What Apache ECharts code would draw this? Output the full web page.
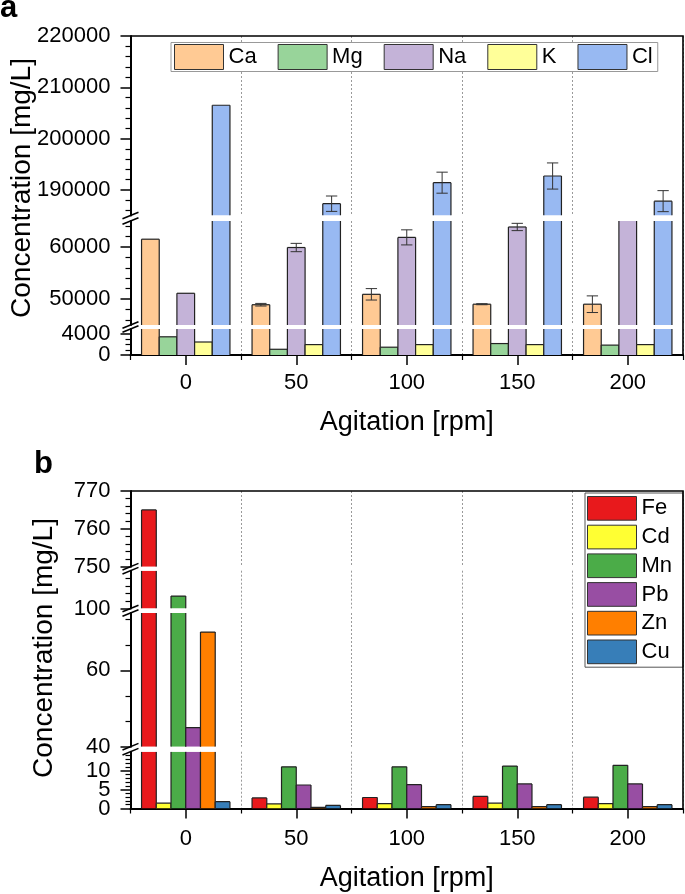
<!DOCTYPE html>
<html><head><meta charset="utf-8">
<script src="https://cdn.jsdelivr.net/npm/echarts@6/dist/echarts.min.js"></script>
<style>html,body{margin:0;padding:0;background:#fff}#c{width:685px;height:894px}</style>
</head><body><div id="c"></div>
<script>
// ---------------- data ----------------
const categories = ['0', '50', '100', '150', '200'];

// panel a  (mg/L)
const caValues = [61500, 48900, 50900, 49000, 49000];
const caErrors = [0, 250, 1100, 100, 1600];
const mgValues = [3500, 1100, 1500, 2200, 1900];
const naValues = [51100, 59900, 61850, 63850, 66000];
const naErrors = [0, 800, 1450, 700, 0];
const kValues  = [2500, 2000, 2000, 2000, 2000];
const clValues = [206500, 187300, 191400, 192700, 187800];
const clErrors = [0, 1500, 2050, 2550, 2050];
const aTickLabels = [0, 4000, 50000, 60000, 190000, 200000, 210000, 220000];

// panel b  (mg/L)
const feValues = [765, 2.8, 2.9, 3.2, 3.0];
const cdValues = [1.4, 1.2, 1.3, 1.4, 1.3];
const mnValues = [103.3, 11.0, 11.0, 11.2, 11.4];
const pbValues = [45.0, 6.2, 6.3, 6.5, 6.5];
const znValues = [70.0, 0.3, 0.5, 0.5, 0.5];
const cuValues = [1.8, 0.8, 1.0, 1.0, 1.0];
const bTickLabels = [0, 5, 10, 40, 60, 100, 750, 760, 770];

// ---------------- layout / style ----------------
const FONT = '"Liberation Sans", Arial, sans-serif';
const PLOT_LEFT = 130.5, PLOT_RIGHT = 683;
const panelA = {
  segs: [
    {min: 0, max: 5000, top: 329, bottom: 355, minorStep: 1000},
    {min: 45000, max: 65000, top: 221, bottom: 325, minorStep: 2000},
    {min: 185000, max: 220000, top: 36, bottom: 215.5, minorStep: 2000}
  ],
  titleX: 22, titleY: 188, label: 'a', labelX: 0, labelY: 8, xLabelMargin: 17, xNameGap: 54
};
const panelB = {
  segs: [
    {min: 0, max: 15, top: 751.7, bottom: 808.5, minorStep: 1},
    {min: 40, max: 75, top: 613, bottom: 746.7, minorStep: 20 / 3},
    {min: 100, max: 110, top: 570.7, bottom: 608.5, minorStep: 2},
    {min: 750, max: 770, top: 491, bottom: 566.7, minorStep: 2}
  ],
  titleX: 44, titleY: 648, label: 'b', labelX: 34, labelY: 464, xLabelMargin: 19, xNameGap: 57
};

const seriesA = [
  {name: 'Ca', values: caValues, errors: caErrors, color: '#FFCA94'},
  {name: 'Mg', values: mgValues, errors: null, color: '#98D49A'},
  {name: 'Na', values: naValues, errors: naErrors, color: '#C4B3D8'},
  {name: 'K',  values: kValues,  errors: null, color: '#FFFF99'},
  {name: 'Cl', values: clValues, errors: clErrors, color: '#98B9F2'}
];
const seriesB = [
  {name: 'Fe', values: feValues, color: '#E8191C'},
  {name: 'Cd', values: cdValues, color: '#FFFF33'},
  {name: 'Mn', values: mnValues, color: '#4BAC48'},
  {name: 'Pb', values: pbValues, color: '#984EA3'},
  {name: 'Zn', values: znValues, color: '#FF7F00'},
  {name: 'Cu', values: cuValues, color: '#377EB8'}
];

const grids = [], xAxes = [], yAxes = [], series = [], graphics = [];

function makeRender(seg, k, n) {
  return function (params, api) {
    const i = api.value(0);
    const v = api.value(1);
    const e = api.value(2) || 0;
    if (!(v > seg.min)) return null;
    const band = api.size([1, 0])[0];
    const cx = api.coord([i, seg.min])[0];
    const bw = band * 0.8 / n;
    const x0 = cx - band * 0.4 + k * bw;
    const top = Math.min(v, seg.max);
    const yT = api.coord([i, top])[1];
    const yB = api.coord([i, seg.min])[1];
    const st = {stroke: '#222', lineWidth: 1.2};
    const ch = [
      {type: 'rect', shape: {x: x0, y: yT, width: bw, height: yB - yT}, style: {fill: api.visual('color')}},
      {type: 'line', shape: {x1: x0, y1: yB, x2: x0, y2: yT}, style: st},
      {type: 'line', shape: {x1: x0 + bw, y1: yB, x2: x0 + bw, y2: yT}, style: st}
    ];
    if (v <= seg.max) {
      ch.push({type: 'line', shape: {x1: x0, y1: yT, x2: x0 + bw, y2: yT}, style: st});
      if (e > 0) {
        const xm = x0 + bw / 2, cap = bw * 0.32;
        const yHi = api.coord([i, v + e])[1], yLo = api.coord([i, v - e])[1];
        const es = {stroke: '#333', lineWidth: 1};
        ch.push({type: 'line', shape: {x1: xm, y1: yHi, x2: xm, y2: yLo}, style: es});
        ch.push({type: 'line', shape: {x1: xm - cap, y1: yHi, x2: xm + cap, y2: yHi}, style: es});
        ch.push({type: 'line', shape: {x1: xm - cap, y1: yLo, x2: xm + cap, y2: yLo}, style: es});
      }
    }
    return {type: 'group', children: ch};
  };
}

function tickAxis(gi, seg, values, opts) {
  return {
    type: 'value', gridIndex: gi, min: seg.min, max: seg.max, position: 'left',
    axisLine: {show: !!opts.line, lineStyle: {color: '#000', width: 2}},
    axisTick: {show: true, length: opts.len, customValues: values, lineStyle: {color: '#000', width: opts.len > 6 ? 1.5 : 1.2}},
    axisLabel: opts.labels ? {show: true, customValues: values, margin: 20, fontSize: 22, fontFamily: FONT, color: '#000',
      showMinLabel: true, showMaxLabel: true, formatter: v => String(Math.round(v))} : {show: false},
    splitLine: {show: false}
  };
}

function buildPanel(panel, defs, tickLabels) {
  panel.segs.forEach((seg, s) => {
    const gi = grids.length;
    grids.push({left: PLOT_LEFT, width: PLOT_RIGHT - PLOT_LEFT, top: seg.top, height: seg.bottom - seg.top,
      containLabel: false, outerBoundsMode: 'none'});
    const isBottom = s === 0;
    const xi = xAxes.length;
    xAxes.push({
      type: 'category', gridIndex: gi, data: categories, position: 'bottom', boundaryGap: true,
      axisLine: {show: isBottom, onZero: false, lineStyle: {color: '#000', width: 2}},
      axisTick: {show: isBottom, alignWithLabel: true, length: 10, lineStyle: {color: '#000', width: 1.5}},
      axisLabel: {show: isBottom, margin: panel.xLabelMargin, fontSize: 22, fontFamily: FONT, color: '#000'},
      splitLine: {show: true, lineStyle: {color: '#9a9a9a', width: 1, type: [2, 2]}},
      name: isBottom ? 'Agitation [rpm]' : '', nameLocation: 'middle', nameGap: panel.xNameGap,
      nameTextStyle: {fontSize: 27, fontFamily: FONT, color: '#000'}
    });
    if (isBottom) {
      xAxes.push({
        type: 'category', gridIndex: gi, data: categories, position: 'bottom',
        axisLine: {show: false}, axisTick: {show: true, length: 5, lineStyle: {color: '#000', width: 1.2}},
        axisLabel: {show: false}, splitLine: {show: false}
      });
    }
    const majors = tickLabels.filter(v => v >= seg.min && v <= seg.max);
    const minors = [];
    for (let k = Math.floor(seg.min / seg.minorStep); k * seg.minorStep < seg.max - 1e-6; k++) {
      const v = k * seg.minorStep;
      if (v <= seg.min + 1e-6) continue;
      if (majors.some(m => Math.abs(m - v) < 1e-6)) continue;
      minors.push(+v.toFixed(6));
    }
    const evenMajors = majors.filter((v, i) => i % 2 === 0);
    const oddMajors = majors.filter((v, i) => i % 2 === 1);
    const yi = yAxes.length;
    yAxes.push(tickAxis(gi, seg, evenMajors, {line: true, len: 10, labels: true}));
    if (oddMajors.length) yAxes.push(tickAxis(gi, seg, oddMajors, {line: false, len: 10, labels: true}));
    if (minors.length) yAxes.push(tickAxis(gi, seg, minors, {line: false, len: 5, labels: false}));
    defs.forEach((d, k) => {
      series.push({
        type: 'custom', name: d.name, xAxisIndex: xi, yAxisIndex: yi, clip: true,
        itemStyle: {color: d.color},
        data: d.values.map((v, i) => [i, v, d.errors ? d.errors[i] : 0]),
        encode: {x: 0, y: 1},
        renderItem: makeRender(seg, k, defs.length)
      });
    });
  });
  // frame (top + right)
  const top = panel.segs[panel.segs.length - 1].top;
  const bottom = panel.segs[0].bottom;
  graphics.push({type: 'polyline', shape: {points: [[PLOT_LEFT, top], [PLOT_RIGHT, top], [PLOT_RIGHT, bottom]]},
    style: {stroke: '#000', lineWidth: 1.6, fill: null}, z: 100});
  // break marks
  for (let s = 0; s < panel.segs.length - 1; s++) {
    const edges = [panel.segs[s + 1].bottom, panel.segs[s].top];
    edges.forEach(y => {
      graphics.push({type: 'line', shape: {x1: PLOT_LEFT - 8, y1: y + 3.3, x2: PLOT_LEFT + 8, y2: y - 3.3},
        style: {stroke: '#000', lineWidth: 1.5}, z: 100});
    });
  }
  graphics.push({type: 'text', x: panel.titleX, y: panel.titleY, rotation: Math.PI / 2,
    style: {text: 'Concentration [mg/L]', fontSize: 28, fontFamily: FONT, fill: '#000',
      textAlign: 'center', align: 'center', textVerticalAlign: 'middle', verticalAlign: 'middle'}});
  graphics.push({type: 'text', x: panel.labelX, y: panel.labelY,
    style: {text: panel.label, fontSize: 31, fontWeight: 'bold', fontFamily: FONT, fill: '#000',
      textAlign: 'left', align: 'left', textVerticalAlign: 'middle', verticalAlign: 'middle'}});
}

buildPanel(panelA, seriesA, aTickLabels);
buildPanel(panelB, seriesB, bTickLabels);

const legendCommon = {
  icon: 'rect', backgroundColor: '#fff', borderWidth: 1,
  itemStyle: {borderColor: '#333', borderWidth: 1},
  textStyle: {fontSize: 22, fontFamily: FONT, color: '#000'},
  selectedMode: false
};

const chart = echarts.init(document.getElementById('c'), null, {renderer: 'canvas', width: 685, height: 894});
chart.setOption({
  animation: false,
  backgroundColor: '#fff',
  grid: grids,
  xAxis: xAxes,
  yAxis: yAxes,
  legend: [
    Object.assign({}, legendCommon, {data: seriesA.map(d => d.name), orient: 'horizontal', left: 171, top: 42.5,
      itemWidth: 49, itemHeight: 25, itemGap: 21, padding: [1.5, 5, 1.5, 3], borderColor: '#999'}),
    Object.assign({}, legendCommon, {data: seriesB.map(d => d.name), orient: 'vertical', left: 585, top: 493,
      itemWidth: 49, itemHeight: 23.7, itemGap: 4, padding: [3, 11, 3, 2], borderColor: '#555'})
  ],
  graphic: graphics,
  series: series
});
</script></body></html>
